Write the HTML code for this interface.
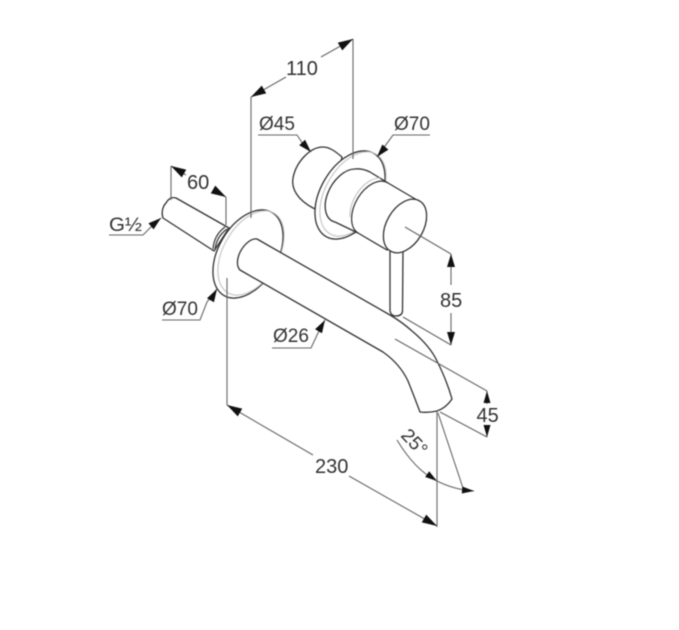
<!DOCTYPE html>
<html>
<head>
<meta charset="utf-8">
<style>
html,body{margin:0;padding:0;background:#fff;width:679px;height:630px;overflow:hidden}
svg{display:block;filter:blur(0.45px)}
text{font-family:"Liberation Sans",sans-serif;fill:#333;font-size:19px}
text.b{font-size:20px}
.m{fill:#fff;stroke:#333;stroke-width:1.3;stroke-linejoin:round}
.n{fill:none;stroke:#333;stroke-width:1.2}
.g{fill:none;stroke:#c4c4c4;stroke-width:1.1}
.d{fill:none;stroke:#666;stroke-width:1.1}
.a{fill:#111}
</style>
</head>
<body>
<svg width="679" height="630" viewBox="0 0 679 630" xmlns="http://www.w3.org/2000/svg">
<rect width="679" height="630" fill="#fff"/>

<!-- stub -->
<path class="m" d="M176 198 L229 228 L214 251 L163 218 C161 212 163 206 166 203 C169 198 172 197 176 198Z"/>
<path class="n" d="M225 227 Q214 235 213 249 M227 229 Q216 237 215 250"/>

<!-- left flange -->
<ellipse class="m" cx="248" cy="254" rx="48" ry="29.5" transform="rotate(-60 248 254)"/>
<ellipse class="g" cx="251" cy="253" rx="46" ry="27.5" transform="rotate(-60 251 253)"/>

<!-- spout -->
<path class="m" d="M257 239 L390 315 Q402 322 412 331 Q430 346 437 361 Q447 381 452 399 Q446 408 437 411 Q428 413 420 412 Q414 396 408 381 Q400 364 383 352 L240 270 A18 10.5 -60 0 1 257 239Z"/>

<!-- back cylinder -->
<path class="m" d="M323 147 C330 147 336 152 342 157 L330 215 L313 208 C298 200 291 189 293 178 C296 162 310 147 323 147Z"/>

<!-- right flange -->
<ellipse class="m" cx="350" cy="195" rx="48" ry="29.5" transform="rotate(-60 350 195)"/>
<ellipse class="g" cx="353" cy="194" rx="46" ry="27.5" transform="rotate(-60 353 194)"/>

<!-- lever -->
<path class="m" d="M390 250 L390 311 Q391 316 396 316 Q402 316 402.5 311 L403 250Z"/>

<!-- valve body and knob -->
<path class="m" d="M355 169 Q362 168 370 172 L388 183 L417 200 L387 250 L358 233 L335 222 A29 18 -60 0 1 355 169Z"/>
<path class="g" d="M380 178 A29 18 -60 0 0 350 217"/>
<path class="n" d="M388 183 A29 18 -60 0 0 358 233"/>
<ellipse class="m" cx="405" cy="226" rx="29" ry="18.5" transform="rotate(-60 405 226)"/>

<!-- extension lines -->
<path class="d" d="M251 97 V218 M353 39 V159 M171 166 V200 M226 197 V225 M227 278 V405 M437 411 V527 M438 413 L463 488"/>
<path class="d" d="M405 227 L451 254 M403 317 L451 345 M395 339 L487 391 M440 412 L487 437"/>

<!-- dimension lines -->
<path class="d" d="M251 97 L286 77 M321 57 L353 39"/>
<path class="d" d="M171 166 L186 175 M213 190 L226 197"/>
<path class="d" d="M227 405 L313 455 M349 476 L437 526"/>
<path class="d" d="M451 254 V285 M451 313 V345"/>
<path class="d" d="M487 391 V404 M487 425 V437"/>
<path class="d" d="M397 440 Q415 470 437 481 Q455 490 474 491"/>

<!-- leaders -->
<path class="d" d="M109 235 H143 L151 227 L161 218"/>
<path class="d" d="M162 320 H200 L207 302 L217 289"/>
<path class="d" d="M258 135 H297 L303 144 L311 152"/>
<path class="d" d="M430 135 H393 L385 146 L377 157"/>
<path class="d" d="M272 348 H311 L318 333 L325 320"/>

<!-- arrowheads -->
<path class="a" d="M0 0L-15 -4.5L-15 4.5Z" transform="translate(251 97) rotate(150)"/>
<path class="a" d="M0 0L-15 -4.5L-15 4.5Z" transform="translate(353 39) rotate(-30)"/>
<path class="a" d="M0 0L-15 -4.5L-15 4.5Z" transform="translate(171 166) rotate(210)"/>
<path class="a" d="M0 0L-15 -4.5L-15 4.5Z" transform="translate(226 197) rotate(30)"/>
<path class="a" d="M0 0L-15 -4.5L-15 4.5Z" transform="translate(227 405) rotate(210)"/>
<path class="a" d="M0 0L-15 -4.5L-15 4.5Z" transform="translate(437 526) rotate(30)"/>
<path class="a" d="M0 0L-13 -4L-13 4Z" transform="translate(451 254) rotate(-90)"/>
<path class="a" d="M0 0L-13 -4L-13 4Z" transform="translate(451 345) rotate(90)"/>
<path class="a" d="M0 0L-12 -3.5L-12 3.5Z" transform="translate(487 391) rotate(-90)"/>
<path class="a" d="M0 0L-12 -3.5L-12 3.5Z" transform="translate(487 437) rotate(90)"/>
<path class="a" d="M0 0L-13 -4L-13 4Z" transform="translate(161 218) rotate(-40)"/>
<path class="a" d="M0 0L-13 -4L-13 4Z" transform="translate(217 289) rotate(-60)"/>
<path class="a" d="M0 0L-13 -4L-13 4Z" transform="translate(311 152) rotate(47)"/>
<path class="a" d="M0 0L-13 -4L-13 4Z" transform="translate(377 157) rotate(130)"/>
<path class="a" d="M0 0L-13 -4L-13 4Z" transform="translate(325 320) rotate(-60)"/>
<path class="a" d="M0 0L-12 -3.5L-12 3.5Z" transform="translate(437 481) rotate(35)"/>
<path class="a" d="M0 0L-12 -3.5L-12 3.5Z" transform="translate(474 491) rotate(5)"/>

<!-- labels -->
<text class="b" x="286" y="75">110</text>
<text class="b" x="187" y="189">60</text>
<text x="109" y="231" textLength="33" lengthAdjust="spacingAndGlyphs">G½</text>
<text x="259" y="130">Ø45</text>
<text x="394" y="130">Ø70</text>
<text x="162" y="315">Ø70</text>
<text x="273" y="342">Ø26</text>
<text class="b" x="440" y="307">85</text>
<text class="b" x="476.5" y="422">45</text>
<text class="b" x="315" y="473">230</text>
<text x="0" y="0" transform="translate(400 436) rotate(47)">25°</text>
</svg>
</body>
</html>
